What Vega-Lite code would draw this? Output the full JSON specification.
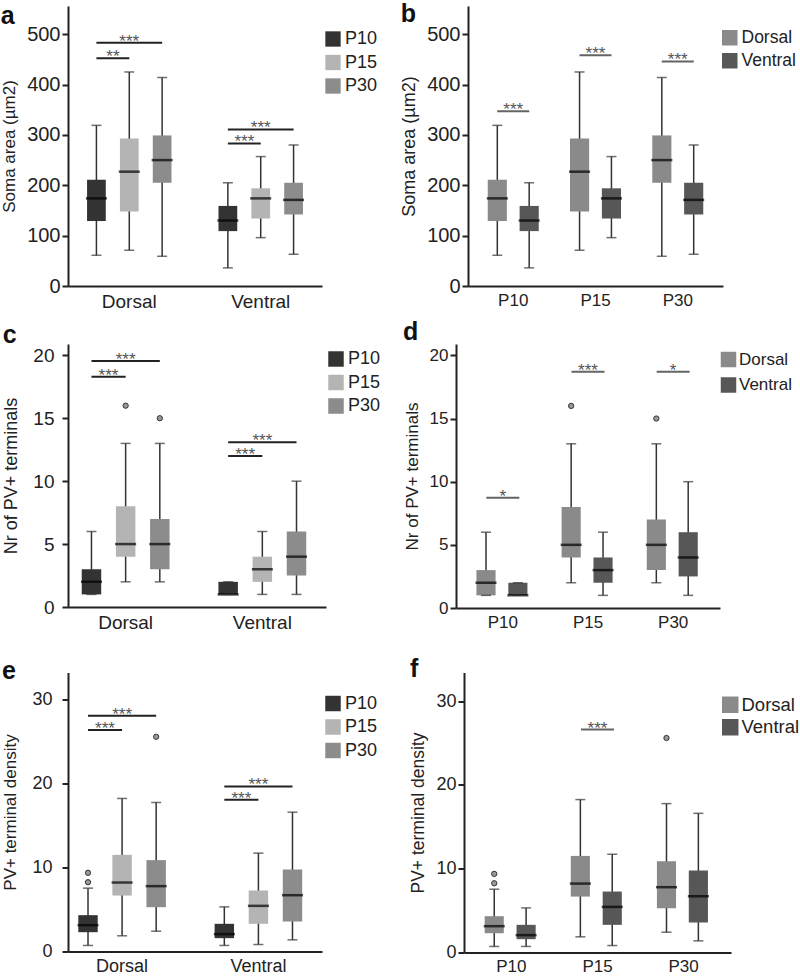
{
"$schema": "https://vega.github.io/schema/vega-lite/v6.json",
"background": "white",
"padding": {"left": 0, "top": 2, "right": 0, "bottom": 0},
"config": {
  "font": "Liberation Sans",
  "view": {"stroke": null},
  "axis": {"grid": false, "domainColor": "#222", "domainWidth": 2, "tickColor": "#222", "tickWidth": 2, "tickSize": 6, "labelColor": "#222", "titleColor": "#222", "titleFontWeight": "normal", "labelFont": "Liberation Sans", "titleFont": "Liberation Sans"},
  "axisX": {"ticks": false, "labelAngle": 0, "labelPadding": 6},
  "axisY": {"labelPadding": 2, "titlePadding": 8},
  "legend": {"symbolType": "square", "symbolStrokeWidth": 0, "padding": 0, "labelColor": "#222", "labelOffset": 3, "labelFont": "Liberation Sans"},
  "title": {"font": "Liberation Sans", "fontWeight": "bold", "fontSize": 25, "anchor": "start", "frame": "bounds", "color": "#111", "baseline": "alphabetic"}
},
"datasets": {
  "box": [
    {"m":"soma","region":"Dorsal","age":"P10","key":"Dorsal P10","lo":61,"q1":129,"med":174,"q3":211,"hi":319},
    {"m":"soma","region":"Dorsal","age":"P15","key":"Dorsal P15","lo":71,"q1":148,"med":227,"q3":293,"hi":425},
    {"m":"soma","region":"Dorsal","age":"P30","key":"Dorsal P30","lo":59,"q1":205,"med":250,"q3":299,"hi":414},
    {"m":"soma","region":"Ventral","age":"P10","key":"Ventral P10","lo":36,"q1":109,"med":130,"q3":159,"hi":205},
    {"m":"soma","region":"Ventral","age":"P15","key":"Ventral P15","lo":96,"q1":134,"med":174,"q3":194,"hi":257},
    {"m":"soma","region":"Ventral","age":"P30","key":"Ventral P30","lo":63,"q1":142,"med":171,"q3":205,"hi":280},
    {"m":"count","region":"Dorsal","age":"P10","key":"Dorsal P10","lo":1,"q1":1,"med":2,"q3":3,"hi":6},
    {"m":"count","region":"Dorsal","age":"P15","key":"Dorsal P15","lo":2,"q1":4,"med":5,"q3":8,"hi":13},
    {"m":"count","region":"Dorsal","age":"P30","key":"Dorsal P30","lo":2,"q1":3,"med":5,"q3":7,"hi":13},
    {"m":"count","region":"Ventral","age":"P10","key":"Ventral P10","lo":1,"q1":1,"med":1,"q3":2,"hi":2},
    {"m":"count","region":"Ventral","age":"P15","key":"Ventral P15","lo":1,"q1":2,"med":3,"q3":4,"hi":6},
    {"m":"count","region":"Ventral","age":"P30","key":"Ventral P30","lo":1,"q1":2.5,"med":4,"q3":6,"hi":10},
    {"m":"density","region":"Dorsal","age":"P10","key":"Dorsal P10","lo":0.72,"q1":2.3,"med":3.14,"q3":4.33,"hi":7.55},
    {"m":"density","region":"Dorsal","age":"P15","key":"Dorsal P15","lo":1.87,"q1":6.67,"med":8.22,"q3":11.52,"hi":18.24},
    {"m":"density","region":"Dorsal","age":"P30","key":"Dorsal P30","lo":2.42,"q1":5.28,"med":7.79,"q3":10.89,"hi":17.76},
    {"m":"density","region":"Ventral","age":"P10","key":"Ventral P10","lo":0.72,"q1":1.59,"med":2.07,"q3":3.3,"hi":5.32},
    {"m":"density","region":"Ventral","age":"P15","key":"Ventral P15","lo":0.83,"q1":3.3,"med":5.44,"q3":7.27,"hi":11.72},
    {"m":"density","region":"Ventral","age":"P30","key":"Ventral P30","lo":1.39,"q1":3.58,"med":6.71,"q3":9.77,"hi":16.6}
  ],
  "out": [
    {"m":"count","region":"Dorsal","age":"P15","key":"Dorsal P15","v":16},
    {"m":"count","region":"Dorsal","age":"P30","key":"Dorsal P30","v":15},
    {"m":"density","region":"Dorsal","age":"P10","key":"Dorsal P10","v":8.26},
    {"m":"density","region":"Dorsal","age":"P10","key":"Dorsal P10","v":9.38},
    {"m":"density","region":"Dorsal","age":"P30","key":"Dorsal P30","v":25.59}
  ],
  "sigA": [
    {"m":"soma","from":"Dorsal P10","to":"Dorsal P15","mid":"Dorsal P10","span":1,"y":452,"label":"**"},
    {"m":"soma","from":"Dorsal P10","to":"Dorsal P30","mid":"Dorsal P15","span":2,"y":483,"label":"***"},
    {"m":"soma","from":"Ventral P10","to":"Ventral P15","mid":"Ventral P10","span":1,"y":283,"label":"***"},
    {"m":"soma","from":"Ventral P10","to":"Ventral P30","mid":"Ventral P15","span":2,"y":311,"label":"***"},
    {"m":"count","from":"Dorsal P10","to":"Dorsal P15","mid":"Dorsal P10","span":1,"y":18.3,"label":"***"},
    {"m":"count","from":"Dorsal P10","to":"Dorsal P30","mid":"Dorsal P15","span":2,"y":19.55,"label":"***"},
    {"m":"count","from":"Ventral P10","to":"Ventral P15","mid":"Ventral P10","span":1,"y":12.0,"label":"***"},
    {"m":"count","from":"Ventral P10","to":"Ventral P30","mid":"Ventral P15","span":2,"y":13.1,"label":"***"},
    {"m":"density","from":"Dorsal P10","to":"Dorsal P15","mid":"Dorsal P10","span":1,"y":26.4,"label":"***"},
    {"m":"density","from":"Dorsal P10","to":"Dorsal P30","mid":"Dorsal P15","span":2,"y":28.1,"label":"***"},
    {"m":"density","from":"Ventral P10","to":"Ventral P15","mid":"Ventral P10","span":1,"y":18.08,"label":"***"},
    {"m":"density","from":"Ventral P10","to":"Ventral P30","mid":"Ventral P15","span":2,"y":19.67,"label":"***"}
  ],
  "sigB": [
    {"m":"soma","age":"P10","y":347,"label":"***"},
    {"m":"soma","age":"P15","y":458,"label":"***"},
    {"m":"soma","age":"P30","y":446,"label":"***"},
    {"m":"count","age":"P10","y":8.73,"label":"*"},
    {"m":"count","age":"P15","y":18.7,"label":"***"},
    {"m":"count","age":"P30","y":18.7,"label":"*"},
    {"m":"density","age":"P15","y":26.6,"label":"***"}
  ]
},
"resolve": {"scale": {"color": "independent"}, "legend": {"color": "independent"}},
"columns": 1,
"align": "none",
"spacing": 24.5,
"concat": [
{
"columns": 1,
"align": "none",
"spacing": 9,
"resolve": {"scale": {"color": "independent"}, "legend": {"color": "independent"}},
"concat": [
{
"spacing": 22,
"resolve": {"scale": {"color": "independent"}, "legend": {"color": "independent"}},
"hconcat": [
{
"width": 254, "height": 280,
"title": {"text": "a", "offset": -23},
"layer": [
 {"data": {"name": "box"}, "transform": [{"filter": "datum.m==='soma'"}],
  "mark": {"type": "rule", "color": "#333", "strokeWidth": 1.5},
  "encoding": {
   "x": {"field": "key", "type": "nominal", "scale": {"domain": ["Dorsal P10","Dorsal P15","Dorsal P30","gap","Ventral P10","Ventral P15","Ventral P30"], "paddingInner": 0.43, "paddingOuter": 0.58}, "axis": {"title": null, "labelFontSize": 19, "labelExpr": "datum.value == 'Dorsal P15' ? 'Dorsal' : datum.value == 'Ventral P15' ? 'Ventral' : ''"}},
   "y": {"field": "lo", "type": "quantitative", "scale": {"domain": [0, 556], "nice": false}, "axis": {"title": "Soma area (µm2)", "values": [0,100,200,300,400,500], "labelFontSize": 20, "titleFontSize": 17}},
   "y2": {"field": "hi"}}},
 {"data": {"name": "box"}, "transform": [{"filter": "datum.m==='soma'"}],
  "mark": {"type": "bar"},
  "encoding": {
   "x": {"field": "key", "type": "nominal", "scale": {"domain": ["Dorsal P10","Dorsal P15","Dorsal P30","gap","Ventral P10","Ventral P15","Ventral P30"], "paddingInner": 0.43, "paddingOuter": 0.58}},
   "y": {"field": "q1", "type": "quantitative", "scale": {"domain": [0, 556], "nice": false}},
   "y2": {"field": "q3"},
   "color": {"field": "age", "type": "nominal", "scale": {"domain": ["P10","P15","P30"], "range": ["#333333","#b4b4b4","#8c8c8c"]}, "legend": {"orient": "none", "legendX": 256, "legendY": 24, "title": null, "symbolSize": 235, "labelFontSize": 18, "rowPadding": 5.5}}}},
 {"data": {"name": "box"}, "transform": [{"filter": "datum.m==='soma'"}],
  "mark": {"type": "tick", "color": "#000", "thickness": 2.5, "size": 21},
  "encoding": {
   "x": {"field": "key", "type": "nominal", "scale": {"domain": ["Dorsal P10","Dorsal P15","Dorsal P30","gap","Ventral P10","Ventral P15","Ventral P30"], "paddingInner": 0.43, "paddingOuter": 0.58}},
   "y": {"field": "med", "type": "quantitative", "scale": {"domain": [0, 556], "nice": false}}}},
 {"data": {"name": "box"}, "transform": [{"filter": "datum.m==='soma'"}],
  "mark": {"type": "tick", "color": "#333", "thickness": 1.5, "size": 10},
  "encoding": {
   "x": {"field": "key", "type": "nominal", "scale": {"domain": ["Dorsal P10","Dorsal P15","Dorsal P30","gap","Ventral P10","Ventral P15","Ventral P30"], "paddingInner": 0.43, "paddingOuter": 0.58}},
   "y": {"field": "lo", "type": "quantitative", "scale": {"domain": [0, 556], "nice": false}}}},
 {"data": {"name": "box"}, "transform": [{"filter": "datum.m==='soma'"}],
  "mark": {"type": "tick", "color": "#333", "thickness": 1.5, "size": 10},
  "encoding": {
   "x": {"field": "key", "type": "nominal", "scale": {"domain": ["Dorsal P10","Dorsal P15","Dorsal P30","gap","Ventral P10","Ventral P15","Ventral P30"], "paddingInner": 0.43, "paddingOuter": 0.58}},
   "y": {"field": "hi", "type": "quantitative", "scale": {"domain": [0, 556], "nice": false}}}},
 {"data": {"name": "sigA"}, "transform": [{"filter": "datum.m==='soma'"}],
  "mark": {"type": "rule", "color": "#222", "strokeWidth": 2},
  "encoding": {
   "x": {"field": "from", "type": "nominal", "scale": {"domain": ["Dorsal P10","Dorsal P15","Dorsal P30","gap","Ventral P10","Ventral P15","Ventral P30"], "paddingInner": 0.43, "paddingOuter": 0.58}},
   "x2": {"field": "to"},
   "y": {"field": "y", "type": "quantitative", "scale": {"domain": [0, 556], "nice": false}}}},
 {"data": {"name": "sigA"}, "transform": [{"filter": "datum.m==='soma' && datum.span===1"}],
  "mark": {"type": "text", "fontSize": 17, "color": "#555", "dx": 16.5, "dy": 4, "baseline": "alphabetic"},
  "encoding": {
   "x": {"field": "from", "type": "nominal", "scale": {"domain": ["Dorsal P10","Dorsal P15","Dorsal P30","gap","Ventral P10","Ventral P15","Ventral P30"], "paddingInner": 0.43, "paddingOuter": 0.58}},
   "y": {"field": "y", "type": "quantitative", "scale": {"domain": [0, 556], "nice": false}},
   "text": {"field": "label"}}},
 {"data": {"name": "sigA"}, "transform": [{"filter": "datum.m==='soma' && datum.span===2"}],
  "mark": {"type": "text", "fontSize": 17, "color": "#555", "dy": 4, "baseline": "alphabetic"},
  "encoding": {
   "x": {"field": "mid", "type": "nominal", "scale": {"domain": ["Dorsal P10","Dorsal P15","Dorsal P30","gap","Ventral P10","Ventral P15","Ventral P30"], "paddingInner": 0.43, "paddingOuter": 0.58}},
   "y": {"field": "y", "type": "quantitative", "scale": {"domain": [0, 556], "nice": false}},
   "text": {"field": "label"}}}
]
},
{
"width": 255, "height": 280,
"title": {"text": "b", "offset": -21},
"layer": [
 {"data": {"name": "box"}, "transform": [{"filter": "datum.m==='soma'"}],
  "mark": {"type": "rule", "color": "#333", "strokeWidth": 1.5},
  "encoding": {
   "x": {"field": "age", "type": "nominal", "scale": {"domain": ["P10","P15","P30"], "paddingInner": 0.38, "paddingOuter": 0.24}, "axis": {"title": null, "labelFontSize": 17}},
   "xOffset": {"field": "region", "type": "nominal", "scale": {"domain": ["Dorsal","Ventral"], "paddingInner": 0.4, "paddingOuter": 0}},
   "y": {"field": "lo", "type": "quantitative", "scale": {"domain": [0, 556], "nice": false}, "axis": {"title": "Soma area (µm2)", "values": [0,100,200,300,400,500], "labelFontSize": 20, "titleFontSize": 18}},
   "y2": {"field": "hi"}}},
 {"data": {"name": "box"}, "transform": [{"filter": "datum.m==='soma'"}],
  "mark": {"type": "bar"},
  "encoding": {
   "x": {"field": "age", "type": "nominal", "scale": {"domain": ["P10","P15","P30"], "paddingInner": 0.38, "paddingOuter": 0.24}},
   "xOffset": {"field": "region", "type": "nominal", "scale": {"domain": ["Dorsal","Ventral"], "paddingInner": 0.4, "paddingOuter": 0}},
   "y": {"field": "q1", "type": "quantitative", "scale": {"domain": [0, 556], "nice": false}},
   "y2": {"field": "q3"},
   "color": {"field": "region", "type": "nominal", "scale": {"domain": ["Dorsal","Ventral"], "range": ["#8a8a8a","#575757"]}, "legend": {"orient": "none", "legendX": 253, "legendY": 23, "title": null, "symbolSize": 240, "labelFontSize": 17.5, "rowPadding": 4}}}},
 {"data": {"name": "box"}, "transform": [{"filter": "datum.m==='soma'"}],
  "mark": {"type": "tick", "color": "#000", "thickness": 2.5, "size": 21},
  "encoding": {
   "x": {"field": "age", "type": "nominal", "scale": {"domain": ["P10","P15","P30"], "paddingInner": 0.38, "paddingOuter": 0.24}},
   "xOffset": {"field": "region", "type": "nominal", "scale": {"domain": ["Dorsal","Ventral"], "paddingInner": 0.4, "paddingOuter": 0}},
   "y": {"field": "med", "type": "quantitative", "scale": {"domain": [0, 556], "nice": false}}}},
 {"data": {"name": "box"}, "transform": [{"filter": "datum.m==='soma'"}],
  "mark": {"type": "tick", "color": "#333", "thickness": 1.5, "size": 10},
  "encoding": {
   "x": {"field": "age", "type": "nominal", "scale": {"domain": ["P10","P15","P30"], "paddingInner": 0.38, "paddingOuter": 0.24}},
   "xOffset": {"field": "region", "type": "nominal", "scale": {"domain": ["Dorsal","Ventral"], "paddingInner": 0.4, "paddingOuter": 0}},
   "y": {"field": "lo", "type": "quantitative", "scale": {"domain": [0, 556], "nice": false}}}},
 {"data": {"name": "box"}, "transform": [{"filter": "datum.m==='soma'"}],
  "mark": {"type": "tick", "color": "#333", "thickness": 1.5, "size": 10},
  "encoding": {
   "x": {"field": "age", "type": "nominal", "scale": {"domain": ["P10","P15","P30"], "paddingInner": 0.38, "paddingOuter": 0.24}},
   "xOffset": {"field": "region", "type": "nominal", "scale": {"domain": ["Dorsal","Ventral"], "paddingInner": 0.4, "paddingOuter": 0}},
   "y": {"field": "hi", "type": "quantitative", "scale": {"domain": [0, 556], "nice": false}}}},
 {"data": {"name": "sigB"}, "transform": [{"filter": "datum.m==='soma'"}],
  "mark": {"type": "tick", "color": "#222", "thickness": 2, "size": 32},
  "encoding": {
   "x": {"field": "age", "type": "nominal", "scale": {"domain": ["P10","P15","P30"], "paddingInner": 0.38, "paddingOuter": 0.24}},
   "y": {"field": "y", "type": "quantitative", "scale": {"domain": [0, 556], "nice": false}}}},
 {"data": {"name": "sigB"}, "transform": [{"filter": "datum.m==='soma'"}],
  "mark": {"type": "text", "fontSize": 17, "color": "#555", "dy": 4, "baseline": "alphabetic"},
  "encoding": {
   "x": {"field": "age", "type": "nominal", "scale": {"domain": ["P10","P15","P30"], "paddingInner": 0.38, "paddingOuter": 0.24}},
   "y": {"field": "y", "type": "quantitative", "scale": {"domain": [0, 556], "nice": false}},
   "text": {"field": "label"}}}
]
}
]
},
{
"spacing": 22,
"resolve": {"scale": {"color": "independent"}, "legend": {"color": "independent"}},
"hconcat": [
{
"width": 258, "height": 263,
"title": {"text": "c", "offset": -4},
"layer": [
 {"data": {"name": "box"}, "transform": [{"filter": "datum.m==='count'"}],
  "mark": {"type": "rule", "color": "#333", "strokeWidth": 1.5},
  "encoding": {
   "x": {"field": "key", "type": "nominal", "scale": {"domain": ["Dorsal P10","Dorsal P15","Dorsal P30","gap","Ventral P10","Ventral P15","Ventral P30"], "paddingInner": 0.43, "paddingOuter": 0.49, "align": 0.41}, "axis": {"title": null, "labelFontSize": 19, "labelExpr": "datum.value == 'Dorsal P15' ? 'Dorsal' : datum.value == 'Ventral P15' ? 'Ventral' : ''"}},
   "y": {"field": "lo", "type": "quantitative", "scale": {"domain": [0, 20.9], "nice": false}, "axis": {"title": "Nr of PV+ terminals", "values": [0,5,10,15,20], "labelFontSize": 19, "titleFontSize": 18, "titlePadding": 12, "labelPadding": 8}},
   "y2": {"field": "hi"}}},
 {"data": {"name": "box"}, "transform": [{"filter": "datum.m==='count'"}],
  "mark": {"type": "bar"},
  "encoding": {
   "x": {"field": "key", "type": "nominal", "scale": {"domain": ["Dorsal P10","Dorsal P15","Dorsal P30","gap","Ventral P10","Ventral P15","Ventral P30"], "paddingInner": 0.43, "paddingOuter": 0.49, "align": 0.41}},
   "y": {"field": "q1", "type": "quantitative", "scale": {"domain": [0, 20.9], "nice": false}},
   "y2": {"field": "q3"},
   "color": {"field": "age", "type": "nominal", "scale": {"domain": ["P10","P15","P30"], "range": ["#333333","#b4b4b4","#8c8c8c"]}, "legend": {"orient": "none", "legendX": 259, "legendY": 6, "title": null, "symbolSize": 240, "labelFontSize": 18, "rowPadding": 5.5}}}},
 {"data": {"name": "box"}, "transform": [{"filter": "datum.m==='count'"}],
  "mark": {"type": "tick", "color": "#000", "thickness": 2.5, "size": 21},
  "encoding": {
   "x": {"field": "key", "type": "nominal", "scale": {"domain": ["Dorsal P10","Dorsal P15","Dorsal P30","gap","Ventral P10","Ventral P15","Ventral P30"], "paddingInner": 0.43, "paddingOuter": 0.49, "align": 0.41}},
   "y": {"field": "med", "type": "quantitative", "scale": {"domain": [0, 20.9], "nice": false}}}},
 {"data": {"name": "box"}, "transform": [{"filter": "datum.m==='count'"}],
  "mark": {"type": "tick", "color": "#333", "thickness": 1.5, "size": 10},
  "encoding": {
   "x": {"field": "key", "type": "nominal", "scale": {"domain": ["Dorsal P10","Dorsal P15","Dorsal P30","gap","Ventral P10","Ventral P15","Ventral P30"], "paddingInner": 0.43, "paddingOuter": 0.49, "align": 0.41}},
   "y": {"field": "lo", "type": "quantitative", "scale": {"domain": [0, 20.9], "nice": false}}}},
 {"data": {"name": "box"}, "transform": [{"filter": "datum.m==='count'"}],
  "mark": {"type": "tick", "color": "#333", "thickness": 1.5, "size": 10},
  "encoding": {
   "x": {"field": "key", "type": "nominal", "scale": {"domain": ["Dorsal P10","Dorsal P15","Dorsal P30","gap","Ventral P10","Ventral P15","Ventral P30"], "paddingInner": 0.43, "paddingOuter": 0.49, "align": 0.41}},
   "y": {"field": "hi", "type": "quantitative", "scale": {"domain": [0, 20.9], "nice": false}}}},
 {"data": {"name": "out"}, "transform": [{"filter": "datum.m==='count'"}],
  "mark": {"type": "point", "filled": true, "fill": "#999", "stroke": "#333", "strokeWidth": 1, "size": 28, "opacity": 1},
  "encoding": {
   "x": {"field": "key", "type": "nominal", "scale": {"domain": ["Dorsal P10","Dorsal P15","Dorsal P30","gap","Ventral P10","Ventral P15","Ventral P30"], "paddingInner": 0.43, "paddingOuter": 0.49, "align": 0.41}},
   "y": {"field": "v", "type": "quantitative", "scale": {"domain": [0, 20.9], "nice": false}}}},
 {"data": {"name": "sigA"}, "transform": [{"filter": "datum.m==='count'"}],
  "mark": {"type": "rule", "color": "#222", "strokeWidth": 2},
  "encoding": {
   "x": {"field": "from", "type": "nominal", "scale": {"domain": ["Dorsal P10","Dorsal P15","Dorsal P30","gap","Ventral P10","Ventral P15","Ventral P30"], "paddingInner": 0.43, "paddingOuter": 0.49, "align": 0.41}},
   "x2": {"field": "to"},
   "y": {"field": "y", "type": "quantitative", "scale": {"domain": [0, 20.9], "nice": false}}}},
 {"data": {"name": "sigA"}, "transform": [{"filter": "datum.m==='count' && datum.span===1"}],
  "mark": {"type": "text", "fontSize": 17, "color": "#555", "dx": 17, "dy": 4, "baseline": "alphabetic"},
  "encoding": {
   "x": {"field": "from", "type": "nominal", "scale": {"domain": ["Dorsal P10","Dorsal P15","Dorsal P30","gap","Ventral P10","Ventral P15","Ventral P30"], "paddingInner": 0.43, "paddingOuter": 0.49, "align": 0.41}},
   "y": {"field": "y", "type": "quantitative", "scale": {"domain": [0, 20.9], "nice": false}},
   "text": {"field": "label"}}},
 {"data": {"name": "sigA"}, "transform": [{"filter": "datum.m==='count' && datum.span===2"}],
  "mark": {"type": "text", "fontSize": 17, "color": "#555", "dy": 4, "baseline": "alphabetic"},
  "encoding": {
   "x": {"field": "mid", "type": "nominal", "scale": {"domain": ["Dorsal P10","Dorsal P15","Dorsal P30","gap","Ventral P10","Ventral P15","Ventral P30"], "paddingInner": 0.43, "paddingOuter": 0.49, "align": 0.41}},
   "y": {"field": "y", "type": "quantitative", "scale": {"domain": [0, 20.9], "nice": false}},
   "text": {"field": "label"}}}
]
},
{
"width": 264, "height": 264,
"title": {"text": "d", "offset": -1},
"layer": [
 {"data": {"name": "box"}, "transform": [{"filter": "datum.m==='count'"}],
  "mark": {"type": "rule", "color": "#333", "strokeWidth": 1.5},
  "encoding": {
   "x": {"field": "age", "type": "nominal", "scale": {"domain": ["P10","P15","P30"], "paddingInner": 0.38, "paddingOuter": 0.24}, "axis": {"title": null, "labelFontSize": 17}},
   "xOffset": {"field": "region", "type": "nominal", "scale": {"domain": ["Dorsal","Ventral"], "paddingInner": 0.4, "paddingOuter": 0}},
   "y": {"field": "lo", "type": "quantitative", "scale": {"domain": [0, 20.9], "nice": false}, "axis": {"title": "Nr of PV+ terminals", "values": [0,5,10,15,20], "labelFontSize": 17, "titleFontSize": 17}},
   "y2": {"field": "hi"}}},
 {"data": {"name": "box"}, "transform": [{"filter": "datum.m==='count'"}],
  "mark": {"type": "bar"},
  "encoding": {
   "x": {"field": "age", "type": "nominal", "scale": {"domain": ["P10","P15","P30"], "paddingInner": 0.38, "paddingOuter": 0.24}},
   "xOffset": {"field": "region", "type": "nominal", "scale": {"domain": ["Dorsal","Ventral"], "paddingInner": 0.4, "paddingOuter": 0}},
   "y": {"field": "q1", "type": "quantitative", "scale": {"domain": [0, 20.9], "nice": false}},
   "y2": {"field": "q3"},
   "color": {"field": "region", "type": "nominal", "scale": {"domain": ["Dorsal","Ventral"], "range": ["#8a8a8a","#575757"]}, "legend": {"orient": "none", "legendX": 264, "legendY": 7, "title": null, "symbolSize": 240, "labelFontSize": 17, "labelOffset": 2, "rowPadding": 7.5}}}},
 {"data": {"name": "box"}, "transform": [{"filter": "datum.m==='count'"}],
  "mark": {"type": "tick", "color": "#000", "thickness": 2.5, "size": 21},
  "encoding": {
   "x": {"field": "age", "type": "nominal", "scale": {"domain": ["P10","P15","P30"], "paddingInner": 0.38, "paddingOuter": 0.24}},
   "xOffset": {"field": "region", "type": "nominal", "scale": {"domain": ["Dorsal","Ventral"], "paddingInner": 0.4, "paddingOuter": 0}},
   "y": {"field": "med", "type": "quantitative", "scale": {"domain": [0, 20.9], "nice": false}}}},
 {"data": {"name": "box"}, "transform": [{"filter": "datum.m==='count'"}],
  "mark": {"type": "tick", "color": "#333", "thickness": 1.5, "size": 10},
  "encoding": {
   "x": {"field": "age", "type": "nominal", "scale": {"domain": ["P10","P15","P30"], "paddingInner": 0.38, "paddingOuter": 0.24}},
   "xOffset": {"field": "region", "type": "nominal", "scale": {"domain": ["Dorsal","Ventral"], "paddingInner": 0.4, "paddingOuter": 0}},
   "y": {"field": "lo", "type": "quantitative", "scale": {"domain": [0, 20.9], "nice": false}}}},
 {"data": {"name": "box"}, "transform": [{"filter": "datum.m==='count'"}],
  "mark": {"type": "tick", "color": "#333", "thickness": 1.5, "size": 10},
  "encoding": {
   "x": {"field": "age", "type": "nominal", "scale": {"domain": ["P10","P15","P30"], "paddingInner": 0.38, "paddingOuter": 0.24}},
   "xOffset": {"field": "region", "type": "nominal", "scale": {"domain": ["Dorsal","Ventral"], "paddingInner": 0.4, "paddingOuter": 0}},
   "y": {"field": "hi", "type": "quantitative", "scale": {"domain": [0, 20.9], "nice": false}}}},
 {"data": {"name": "out"}, "transform": [{"filter": "datum.m==='count'"}],
  "mark": {"type": "point", "filled": true, "fill": "#999", "stroke": "#333", "strokeWidth": 1, "size": 28, "opacity": 1},
  "encoding": {
   "x": {"field": "age", "type": "nominal", "scale": {"domain": ["P10","P15","P30"], "paddingInner": 0.38, "paddingOuter": 0.24}},
   "xOffset": {"field": "region", "type": "nominal", "scale": {"domain": ["Dorsal","Ventral"], "paddingInner": 0.4, "paddingOuter": 0}},
   "y": {"field": "v", "type": "quantitative", "scale": {"domain": [0, 20.9], "nice": false}}}},
 {"data": {"name": "sigB"}, "transform": [{"filter": "datum.m==='count'"}],
  "mark": {"type": "tick", "color": "#222", "thickness": 2, "size": 33},
  "encoding": {
   "x": {"field": "age", "type": "nominal", "scale": {"domain": ["P10","P15","P30"], "paddingInner": 0.38, "paddingOuter": 0.24}},
   "y": {"field": "y", "type": "quantitative", "scale": {"domain": [0, 20.9], "nice": false}}}},
 {"data": {"name": "sigB"}, "transform": [{"filter": "datum.m==='count'"}],
  "mark": {"type": "text", "fontSize": 17, "color": "#555", "dy": 4, "baseline": "alphabetic"},
  "encoding": {
   "x": {"field": "age", "type": "nominal", "scale": {"domain": ["P10","P15","P30"], "paddingInner": 0.38, "paddingOuter": 0.24}},
   "y": {"field": "y", "type": "quantitative", "scale": {"domain": [0, 20.9], "nice": false}},
   "text": {"field": "label"}}}
]
}
]
}
]
},
{
"spacing": 31,
"resolve": {"scale": {"color": "independent"}, "legend": {"color": "independent"}},
"hconcat": [
{
"width": 254, "height": 279,
"title": {"text": "e", "offset": -11},
"layer": [
 {"data": {"name": "box"}, "transform": [{"filter": "datum.m==='density'"}],
  "mark": {"type": "rule", "color": "#333", "strokeWidth": 1.5},
  "encoding": {
   "x": {"field": "key", "type": "nominal", "scale": {"domain": ["Dorsal P10","Dorsal P15","Dorsal P30","gap","Ventral P10","Ventral P15","Ventral P30"], "paddingInner": 0.43, "paddingOuter": 0.4415, "align": 0.342}, "axis": {"title": null, "labelFontSize": 18, "labelExpr": "datum.value == 'Dorsal P15' ? 'Dorsal' : datum.value == 'Ventral P15' ? 'Ventral' : ''"}},
   "y": {"field": "lo", "type": "quantitative", "scale": {"domain": [0, 33.25], "nice": false}, "axis": {"title": "PV+ terminal density", "values": [0,10,20,30], "labelFontSize": 18, "titleFontSize": 17, "titlePadding": 12, "labelPadding": 10}},
   "y2": {"field": "hi"}}},
 {"data": {"name": "box"}, "transform": [{"filter": "datum.m==='density'"}],
  "mark": {"type": "bar"},
  "encoding": {
   "x": {"field": "key", "type": "nominal", "scale": {"domain": ["Dorsal P10","Dorsal P15","Dorsal P30","gap","Ventral P10","Ventral P15","Ventral P30"], "paddingInner": 0.43, "paddingOuter": 0.4415, "align": 0.342}},
   "y": {"field": "q1", "type": "quantitative", "scale": {"domain": [0, 33.25], "nice": false}},
   "y2": {"field": "q3"},
   "color": {"field": "age", "type": "nominal", "scale": {"domain": ["P10","P15","P30"], "range": ["#333333","#b4b4b4","#8c8c8c"]}, "legend": {"orient": "none", "legendX": 256, "legendY": 22, "title": null, "symbolSize": 240, "labelFontSize": 18, "rowPadding": 5.5}}}},
 {"data": {"name": "box"}, "transform": [{"filter": "datum.m==='density'"}],
  "mark": {"type": "tick", "color": "#000", "thickness": 2.5, "size": 21},
  "encoding": {
   "x": {"field": "key", "type": "nominal", "scale": {"domain": ["Dorsal P10","Dorsal P15","Dorsal P30","gap","Ventral P10","Ventral P15","Ventral P30"], "paddingInner": 0.43, "paddingOuter": 0.4415, "align": 0.342}},
   "y": {"field": "med", "type": "quantitative", "scale": {"domain": [0, 33.25], "nice": false}}}},
 {"data": {"name": "box"}, "transform": [{"filter": "datum.m==='density'"}],
  "mark": {"type": "tick", "color": "#333", "thickness": 1.5, "size": 10},
  "encoding": {
   "x": {"field": "key", "type": "nominal", "scale": {"domain": ["Dorsal P10","Dorsal P15","Dorsal P30","gap","Ventral P10","Ventral P15","Ventral P30"], "paddingInner": 0.43, "paddingOuter": 0.4415, "align": 0.342}},
   "y": {"field": "lo", "type": "quantitative", "scale": {"domain": [0, 33.25], "nice": false}}}},
 {"data": {"name": "box"}, "transform": [{"filter": "datum.m==='density'"}],
  "mark": {"type": "tick", "color": "#333", "thickness": 1.5, "size": 10},
  "encoding": {
   "x": {"field": "key", "type": "nominal", "scale": {"domain": ["Dorsal P10","Dorsal P15","Dorsal P30","gap","Ventral P10","Ventral P15","Ventral P30"], "paddingInner": 0.43, "paddingOuter": 0.4415, "align": 0.342}},
   "y": {"field": "hi", "type": "quantitative", "scale": {"domain": [0, 33.25], "nice": false}}}},
 {"data": {"name": "out"}, "transform": [{"filter": "datum.m==='density'"}],
  "mark": {"type": "point", "filled": true, "fill": "#999", "stroke": "#333", "strokeWidth": 1, "size": 28, "opacity": 1},
  "encoding": {
   "x": {"field": "key", "type": "nominal", "scale": {"domain": ["Dorsal P10","Dorsal P15","Dorsal P30","gap","Ventral P10","Ventral P15","Ventral P30"], "paddingInner": 0.43, "paddingOuter": 0.4415, "align": 0.342}},
   "y": {"field": "v", "type": "quantitative", "scale": {"domain": [0, 33.25], "nice": false}}}},
 {"data": {"name": "sigA"}, "transform": [{"filter": "datum.m==='density'"}],
  "mark": {"type": "rule", "color": "#222", "strokeWidth": 2},
  "encoding": {
   "x": {"field": "from", "type": "nominal", "scale": {"domain": ["Dorsal P10","Dorsal P15","Dorsal P30","gap","Ventral P10","Ventral P15","Ventral P30"], "paddingInner": 0.43, "paddingOuter": 0.4415, "align": 0.342}},
   "x2": {"field": "to"},
   "y": {"field": "y", "type": "quantitative", "scale": {"domain": [0, 33.25], "nice": false}}}},
 {"data": {"name": "sigA"}, "transform": [{"filter": "datum.m==='density' && datum.span===1"}],
  "mark": {"type": "text", "fontSize": 17, "color": "#555", "dx": 17, "dy": 4, "baseline": "alphabetic"},
  "encoding": {
   "x": {"field": "from", "type": "nominal", "scale": {"domain": ["Dorsal P10","Dorsal P15","Dorsal P30","gap","Ventral P10","Ventral P15","Ventral P30"], "paddingInner": 0.43, "paddingOuter": 0.4415, "align": 0.342}},
   "y": {"field": "y", "type": "quantitative", "scale": {"domain": [0, 33.25], "nice": false}},
   "text": {"field": "label"}}},
 {"data": {"name": "sigA"}, "transform": [{"filter": "datum.m==='density' && datum.span===2"}],
  "mark": {"type": "text", "fontSize": 17, "color": "#555", "dy": 4, "baseline": "alphabetic"},
  "encoding": {
   "x": {"field": "mid", "type": "nominal", "scale": {"domain": ["Dorsal P10","Dorsal P15","Dorsal P30","gap","Ventral P10","Ventral P15","Ventral P30"], "paddingInner": 0.43, "paddingOuter": 0.4415, "align": 0.342}},
   "y": {"field": "y", "type": "quantitative", "scale": {"domain": [0, 33.25], "nice": false}},
   "text": {"field": "label"}}}
]
},
{
"width": 267, "height": 280,
"title": {"text": "f", "offset": -9.5},
"layer": [
 {"data": {"name": "box"}, "transform": [{"filter": "datum.m==='density'"}],
  "mark": {"type": "rule", "color": "#333", "strokeWidth": 1.5},
  "encoding": {
   "x": {"field": "age", "type": "nominal", "scale": {"domain": ["P10","P15","P30"], "paddingInner": 0.38, "paddingOuter": 0.24}, "axis": {"title": null, "labelFontSize": 17}},
   "xOffset": {"field": "region", "type": "nominal", "scale": {"domain": ["Dorsal","Ventral"], "paddingInner": 0.4, "paddingOuter": 0}},
   "y": {"field": "lo", "type": "quantitative", "scale": {"domain": [0, 33.4], "nice": false}, "axis": {"title": "PV+ terminal density", "values": [0,10,20,30], "labelFontSize": 18, "titleFontSize": 17.5}},
   "y2": {"field": "hi"}}},
 {"data": {"name": "box"}, "transform": [{"filter": "datum.m==='density'"}],
  "mark": {"type": "bar"},
  "encoding": {
   "x": {"field": "age", "type": "nominal", "scale": {"domain": ["P10","P15","P30"], "paddingInner": 0.38, "paddingOuter": 0.24}},
   "xOffset": {"field": "region", "type": "nominal", "scale": {"domain": ["Dorsal","Ventral"], "paddingInner": 0.4, "paddingOuter": 0}},
   "y": {"field": "q1", "type": "quantitative", "scale": {"domain": [0, 33.4], "nice": false}},
   "y2": {"field": "q3"},
   "color": {"field": "region", "type": "nominal", "scale": {"domain": ["Dorsal","Ventral"], "range": ["#8a8a8a","#575757"]}, "legend": {"orient": "none", "legendX": 257, "legendY": 23, "title": null, "symbolSize": 272, "labelFontSize": 18.5, "labelOffset": 2, "rowPadding": 3.5}}}},
 {"data": {"name": "box"}, "transform": [{"filter": "datum.m==='density'"}],
  "mark": {"type": "tick", "color": "#000", "thickness": 2.5, "size": 21},
  "encoding": {
   "x": {"field": "age", "type": "nominal", "scale": {"domain": ["P10","P15","P30"], "paddingInner": 0.38, "paddingOuter": 0.24}},
   "xOffset": {"field": "region", "type": "nominal", "scale": {"domain": ["Dorsal","Ventral"], "paddingInner": 0.4, "paddingOuter": 0}},
   "y": {"field": "med", "type": "quantitative", "scale": {"domain": [0, 33.4], "nice": false}}}},
 {"data": {"name": "box"}, "transform": [{"filter": "datum.m==='density'"}],
  "mark": {"type": "tick", "color": "#333", "thickness": 1.5, "size": 10},
  "encoding": {
   "x": {"field": "age", "type": "nominal", "scale": {"domain": ["P10","P15","P30"], "paddingInner": 0.38, "paddingOuter": 0.24}},
   "xOffset": {"field": "region", "type": "nominal", "scale": {"domain": ["Dorsal","Ventral"], "paddingInner": 0.4, "paddingOuter": 0}},
   "y": {"field": "lo", "type": "quantitative", "scale": {"domain": [0, 33.4], "nice": false}}}},
 {"data": {"name": "box"}, "transform": [{"filter": "datum.m==='density'"}],
  "mark": {"type": "tick", "color": "#333", "thickness": 1.5, "size": 10},
  "encoding": {
   "x": {"field": "age", "type": "nominal", "scale": {"domain": ["P10","P15","P30"], "paddingInner": 0.38, "paddingOuter": 0.24}},
   "xOffset": {"field": "region", "type": "nominal", "scale": {"domain": ["Dorsal","Ventral"], "paddingInner": 0.4, "paddingOuter": 0}},
   "y": {"field": "hi", "type": "quantitative", "scale": {"domain": [0, 33.4], "nice": false}}}},
 {"data": {"name": "out"}, "transform": [{"filter": "datum.m==='density'"}],
  "mark": {"type": "point", "filled": true, "fill": "#999", "stroke": "#333", "strokeWidth": 1, "size": 28, "opacity": 1},
  "encoding": {
   "x": {"field": "age", "type": "nominal", "scale": {"domain": ["P10","P15","P30"], "paddingInner": 0.38, "paddingOuter": 0.24}},
   "xOffset": {"field": "region", "type": "nominal", "scale": {"domain": ["Dorsal","Ventral"], "paddingInner": 0.4, "paddingOuter": 0}},
   "y": {"field": "v", "type": "quantitative", "scale": {"domain": [0, 33.4], "nice": false}}}},
 {"data": {"name": "sigB"}, "transform": [{"filter": "datum.m==='density'"}],
  "mark": {"type": "tick", "color": "#222", "thickness": 2, "size": 33},
  "encoding": {
   "x": {"field": "age", "type": "nominal", "scale": {"domain": ["P10","P15","P30"], "paddingInner": 0.38, "paddingOuter": 0.24}},
   "y": {"field": "y", "type": "quantitative", "scale": {"domain": [0, 33.4], "nice": false}}}},
 {"data": {"name": "sigB"}, "transform": [{"filter": "datum.m==='density'"}],
  "mark": {"type": "text", "fontSize": 17, "color": "#555", "dy": 4, "baseline": "alphabetic"},
  "encoding": {
   "x": {"field": "age", "type": "nominal", "scale": {"domain": ["P10","P15","P30"], "paddingInner": 0.38, "paddingOuter": 0.24}},
   "y": {"field": "y", "type": "quantitative", "scale": {"domain": [0, 33.4], "nice": false}},
   "text": {"field": "label"}}}
]
}
]
}
]
}
